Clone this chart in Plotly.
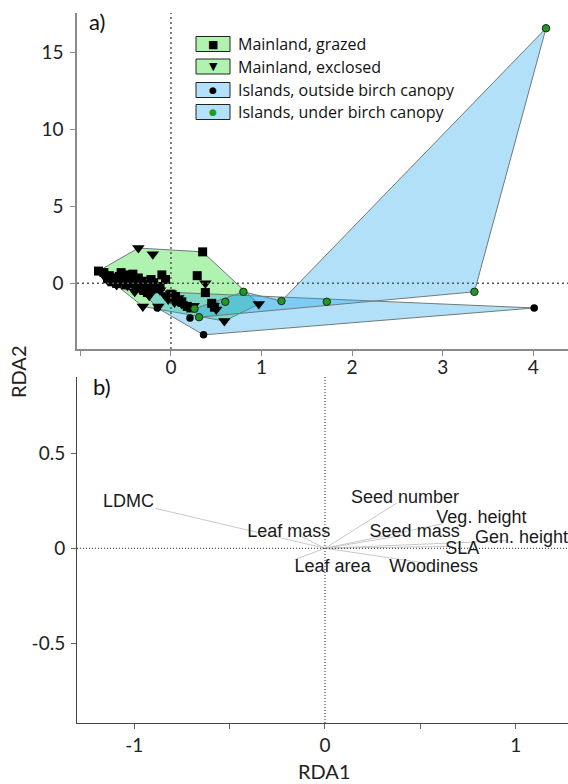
import plotly.graph_objects as go

# ---------------- Panel a data ----------------
grazed_x = [-0.80, -0.74, -0.68, -0.62, -0.57, -0.52, -0.47, -0.44, -0.40, -0.36, -0.33, -0.30, -0.26,
            -0.22, -0.19, -0.15, -0.10, -0.06, 0.05, 0.12, 0.18, 0.22, 0.29, 0.35, 0.38, 0.45, 0.48, -0.42,
            -0.70, -0.60, -0.50, -0.45, -0.38, -0.28, -0.55, -0.65, -0.20, -0.12, 0.00]
grazed_y = [0.80, 0.70, 0.50, 0.35, 0.45, 0.20, 0.55, 0.10, -0.05, 0.35, -0.25, -0.45, -0.60,
            0.25, 0.05, -0.35, 0.55, 0.25, -0.85, -1.20, -1.50, -1.60, 0.50, 2.05, -0.60, -1.30, -1.55, 0.60,
            0.30, 0.00, -0.10, 0.30, 0.15, -0.05, 0.70, 0.10, -0.30, -0.20, -0.70]

excl_x = [-0.36, -0.20, -0.75, -0.70, -0.64, -0.58, -0.53, -0.48, -0.42, -0.38, -0.34, -0.31, -0.27, -0.24,
          -0.17, -0.12, -0.07, -0.03, 0.00, 0.04, 0.08, 0.12, 0.25, 0.38, 0.47, 0.50, 0.59, 0.97, -0.14,
          -0.66, -0.56, -0.46, -0.40, -0.32, -0.22, -0.60]
excl_y = [2.30, 1.90, 0.60, 0.20, 0.40, 0.05, 0.30, -0.15, 0.20, -0.35, 0.05, -1.50, -0.15, -0.80,
          -0.10, -0.45, -0.75, -1.05, -0.65, -1.25, -0.95, -1.35, -1.45, 0.00, -1.45, -1.70, -2.45, -1.35, -1.50,
          0.45, 0.35, 0.10, -0.55, 0.25, -0.45, -0.10]

outside_x = [4.01, 0.36, 0.21, -0.32, -0.15, 0.10]
outside_y = [-1.60, -3.35, -2.25, -0.50, -1.60, -1.30]

under_x = [4.14, 3.35, 1.72, 1.22, 0.80, 0.60, 0.31, 0.26]
under_y = [16.6, -0.55, -1.20, -1.15, -0.55, -1.20, -2.20, -1.65]

# hull outlines
mainland_hull_x = [-0.80, -0.36, 0.35, 0.97, 0.59, -0.31]
mainland_hull_y = [0.80, 2.30, 2.05, -1.35, -2.45, -1.50]
outside_hull_x = [-0.32, 4.01, 0.36, -0.15]
outside_hull_y = [-0.50, -1.60, -3.35, -1.60]
under_hull_x = [4.14, 3.35, 0.31, 0.26, 0.80, 1.22]
under_hull_y = [16.6, -0.55, -2.20, -1.65, -0.55, -1.15]

group_names = ["Mainland, grazed", "Mainland, exclosed",
               "Islands, outside birch canopy", "Islands, under birch canopy"]
group_symbols = ["\u25A0", "\u25BC", "\u25CF", "\u25CF"]

# ---------------- Panel b data ----------------
traits = ["LDMC", "Leaf mass", "Seed number", "Veg. height", "Seed mass",
          "Gen. height", "SLA", "Leaf area", "Woodiness"]
arrow_x = [-0.89, -0.12, 0.38, 0.62, 0.42, 0.95, 0.66, -0.16, 0.54]
arrow_y = [0.21, 0.06, 0.24, 0.13, 0.07, 0.04, 0.01, -0.06, -0.08]
label_x = [-1.03, -0.19, 0.42, 0.82, 0.47, 1.03, 0.72, 0.04, 0.57]
label_y = [0.24, 0.085, 0.26, 0.155, 0.085, 0.05, -0.005, -0.10, -0.10]

# ---------------- styling ----------------
W, H = 568, 784
ML, MR, MT, MB = 77, 0, 13, 61
GREEN_FILL = "#b0f2b0"
LIGHT_BLUE = "#b3e0fa"
BLUE_FILL = "rgba(20,160,235,0.33)"
HULL_LINE = "#6f7a7a"
GREEN_DOT = "#1f9a1f"
TICK_FONT = dict(family="Lato", size=19, color="#222")
PW = W - ML - MR
PH = H - MT - MB

def px_x(p):
    return (p - ML) / PW

def px_y(p):
    return (H - MB - p) / PH

fig = go.Figure()

def close(xs, ys):
    return list(xs) + [xs[0]], list(ys) + [ys[0]]

for hxs, hys, fc in [(mainland_hull_x, mainland_hull_y, GREEN_FILL),
                     (outside_hull_x, outside_hull_y, BLUE_FILL),
                     (under_hull_x, under_hull_y, BLUE_FILL)]:
    hx, hy = close(hxs, hys)
    fig.add_trace(go.Scatter(x=hx, y=hy, fill="toself", fillcolor=fc, mode="lines",
                             line=dict(color=HULL_LINE, width=1), showlegend=False, hoverinfo="skip"))

fig.add_trace(go.Scatter(x=outside_x, y=outside_y, mode="markers", name=group_names[2],
                         marker=dict(symbol="circle", size=7.5, color="black")))
fig.add_trace(go.Scatter(x=grazed_x, y=grazed_y, mode="markers", name=group_names[0],
                         marker=dict(symbol="square", size=9, color="black")))
fig.add_trace(go.Scatter(x=excl_x, y=excl_y, mode="markers", name=group_names[1],
                         marker=dict(symbol="triangle-down", size=11, color="black")))
fig.add_trace(go.Scatter(x=under_x, y=under_y, mode="markers", name=group_names[3],
                         marker=dict(symbol="circle", size=7.5, color=GREEN_DOT,
                                     line=dict(color="#222", width=1))))

# Panel b arrows
ax, ay = [], []
for x, y in zip(arrow_x, arrow_y):
    ax += [0, x, None]
    ay += [0, y, None]
fig.add_trace(go.Scatter(x=ax, y=ay, mode="lines", xaxis="x2", yaxis="y2",
                         line=dict(color="#c9c9c9", width=1), showlegend=False, hoverinfo="skip"))
fig.add_trace(go.Scatter(x=label_x, y=label_y, text=traits, mode="text", xaxis="x2", yaxis="y2",
                         textfont=dict(family="Liberation Sans", size=18, color="#1a1a1a"),
                         textposition="middle center", cliponaxis=False,
                         showlegend=False, hoverinfo="skip"))

a_bottom = px_y(349)
b_top = px_y(377)

axis_common = dict(showgrid=False, zeroline=False, showline=True, ticks="outside", ticklen=5,
                   tickfont=TICK_FONT, fixedrange=True)

fig.update_layout(
    width=W, height=H, margin=dict(l=ML, r=MR, t=MT, b=MB),
    paper_bgcolor="white", plot_bgcolor="white", showlegend=False,
    xaxis=dict(domain=[0, 1], anchor="y", range=[-1.037, 4.383],
               tickvals=[-1, 0, 1, 2, 3, 4], ticktext=["", "0", "1", "2", "3", "4"],
               linecolor="#8a8a8a", linewidth=1.5, tickcolor="#8a8a8a", **axis_common),
    yaxis=dict(domain=[a_bottom, 1], anchor="x", range=[-4.27, 17.59],
               tickvals=[0, 5, 10, 15], ticktext=["0", "5", "10", "15"],
               linecolor="#8a8a8a", linewidth=1.5, tickcolor="#8a8a8a", **axis_common),
    xaxis2=dict(domain=[0, 1], anchor="y2", range=[-1.30, 1.274],
                tickvals=[-1, -0.5, 0, 0.5, 1], ticktext=["-1", "", "0", "", "1"],
                linecolor="#444", linewidth=1, tickcolor="#666", **axis_common),
    yaxis2=dict(domain=[0, b_top], anchor="x2", range=[-0.918, 0.90],
                tickvals=[-0.5, 0, 0.5], ticktext=["-0.5", "0", "0.5"],
                linecolor="#444", linewidth=1, tickcolor="#666", **axis_common),
)
try:
    fig.update_layout(yaxis_ticklabelstandoff=3, yaxis2_ticklabelstandoff=2)
except Exception:
    pass
try:
    fig.update_layout(xaxis_ticklabelstandoff=-5)
except Exception:
    pass

# zero reference lines
fig.add_shape(type="line", xref="x", yref="y domain", x0=0, x1=0, y0=0, y1=1, layer="above",
              line=dict(color="#555", width=1.5, dash="2px,3px"))
fig.add_shape(type="line", xref="x domain", yref="y", x0=0, x1=1, y0=0, y1=0, layer="above",
              line=dict(color="#555", width=1.5, dash="2px,3px"))
fig.add_shape(type="line", xref="x2", yref="y2 domain", x0=0, x1=0, y0=0, y1=1, layer="above",
              line=dict(color="#222", width=1, dash="1px,2px"))
fig.add_shape(type="line", xref="x2 domain", yref="y2", x0=0, x1=1, y0=0, y1=0, layer="above",
              line=dict(color="#222", width=1, dash="1px,2px"))

# manual legend: swatch box, symbol and label per group
row_px = [44, 66.5, 90, 112]
box_fill = [GREEN_FILL, GREEN_FILL, LIGHT_BLUE, LIGHT_BLUE]
sym_color = ["black", "black", "black", GREEN_DOT]
sym_size = [11, 11, 9, 9]
for name, sym, rp, fc, sc, ss in zip(group_names, group_symbols, row_px, box_fill, sym_color, sym_size):
    fig.add_shape(type="rect", xref="paper", yref="paper", layer="above",
                  x0=px_x(196), x1=px_x(230), y0=px_y(rp + 7.5), y1=px_y(rp - 7.5),
                  fillcolor=fc, line=dict(color="#222", width=1))
    fig.add_annotation(text=sym, xref="paper", yref="paper", x=px_x(213), y=px_y(rp),
                       xanchor="center", yanchor="middle", showarrow=False,
                       font=dict(family="DejaVu Sans", size=ss, color=sc))
    fig.add_annotation(text=name, xref="paper", yref="paper", x=px_x(236), y=px_y(rp),
                       xanchor="left", yanchor="middle", showarrow=False,
                       font=dict(family="Open Sans", size=16, color="#111"))

# panel labels and axis titles
fig.add_annotation(text="a)", xref="paper", yref="paper", x=px_x(87), y=px_y(22),
                   xanchor="left", yanchor="middle", showarrow=False,
                   font=dict(family="Lato", size=22, color="#111"))
fig.add_annotation(text="b)", xref="paper", yref="paper", x=px_x(91), y=px_y(386),
                   xanchor="left", yanchor="middle", showarrow=False,
                   font=dict(family="Lato", size=22, color="#111"))
fig.add_annotation(text="RDA2", xref="paper", yref="paper", x=px_x(18), y=px_y(372),
                   xanchor="center", yanchor="middle", showarrow=False, textangle=-90,
                   font=dict(family="Lato", size=20, color="#222"))
fig.add_annotation(text="RDA1", xref="paper", yref="paper", x=px_x(324), y=px_y(771),
                   xanchor="center", yanchor="middle", showarrow=False,
                   font=dict(family="Lato", size=20, color="#222"))

fig.write_html("out.html")
